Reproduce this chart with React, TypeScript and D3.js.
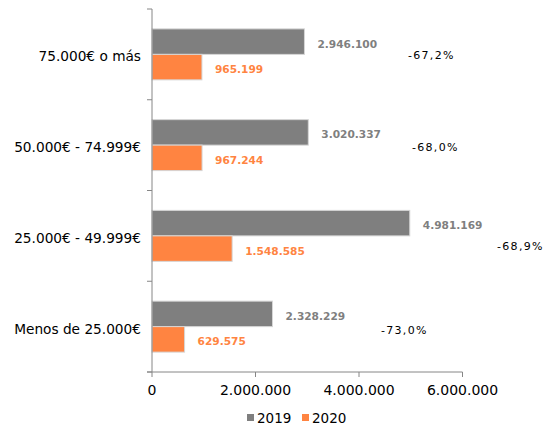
import React from 'react';
import * as d3 from 'd3';

// income brackets, top to bottom
const categories = ['75.000€ o más', '50.000€ - 74.999€', '25.000€ - 49.999€', 'Menos de 25.000€'];
const series = ['2019', '2020'];
const values2019 = [2946100, 3020337, 4981169, 2328229];
const values2020 = [965199, 967244, 1548585, 629575];
const changeLabels = ['-67,2%', '-68,0%', '-68,9%', '-73,0%'];
// where the change labels sit, in axis units
const changeAt = [4947000, 5024000, 6667000, 4425000];
const xTicks = [0, 2000000, 4000000, 6000000];

const W = 548;
const H = 424;
const colors = { '2019': '#7f7f7f', '2020': '#ff8441' };
const fmt = (v: number) => d3.format(',')(v).replace(/,/g, '.');
const font = '"DejaVu Sans", Verdana, sans-serif';

const App = () => {
  const x = d3.scaleLinear().domain([0, 6000000]).range([152, 462.5]);
  const y = d3.scaleBand().domain(categories).range([9, 372]).padding(0);
  const ySub = d3.scaleBand().domain(series).range([0, y.bandwidth()]).paddingInner(0).paddingOuter(0.78);

  const rows = categories.map((c, i) => ({
    cat: c,
    vals: [values2019[i], values2020[i]],
    change: changeLabels[i],
    changeAt: changeAt[i],
  }));
  const changeDy = [1, 2, 11, 3.5];

  return (
    <svg width={W} height={H} style={{ position: 'absolute', left: 0, top: 0, background: '#fff' }}>
      {/* bars */}
      {rows.map((r, i) => (
        <g key={r.cat} transform={`translate(0,${y(r.cat)})`}>
          {series.map((s, j) => (
            <rect
              key={s}
              x={x(0)}
              y={ySub(s)}
              width={x(r.vals[j]) - x(0)}
              height={ySub.bandwidth()}
              fill={colors[s]}
              stroke="#d6d6d6"
              strokeWidth={1}
            />
          ))}
          {series.map((s, j) => (
            <text
              key={'l' + s}
              x={x(r.vals[j]) + 13}
              y={(ySub(s) as number) + ySub.bandwidth() / 2 + 2}
              dominantBaseline="central"
              fontFamily={font}
              fontSize={10.6}
              fontWeight="bold"
              fill={colors[s]}
            >
              {fmt(r.vals[j])}
            </text>
          ))}
          <text
            x={x(r.changeAt)}
            y={y.bandwidth() / 2 + changeDy[i]}
            dominantBaseline="central"
            fontFamily={font}
            fontSize={11}
            letterSpacing={1.3}
            fill="#000"
          >
            {r.change}
          </text>
          <text
            x={141}
            y={y.bandwidth() / 2 + 2}
            textAnchor="end"
            dominantBaseline="central"
            fontFamily={font}
            fontSize={13.7}
            fill="#000"
          >
            {r.cat}
          </text>
        </g>
      ))}

      {/* category axis */}
      <line x1={x(0)} x2={x(0)} y1={9} y2={372} stroke="#868686" />
      {[...categories.map(c => y(c) as number), 372].map((t, i) => (
        <line key={i} x1={x(0) - 5} x2={x(0)} y1={t} y2={t} stroke="#868686" />
      ))}

      {/* value axis */}
      <line x1={x(0) - 5} x2={x(6000000)} y1={372} y2={372} stroke="#868686" />
      {xTicks.map(t => (
        <g key={t} transform={`translate(${x(t)},372)`}>
          <line y1={0} y2={5} stroke="#868686" />
          <text y={18} textAnchor="middle" dominantBaseline="central" fontFamily={font} fontSize={14} fill="#000">
            {fmt(t)}
          </text>
        </g>
      ))}

      {/* legend */}
      {series.map((s, i) => (
        <g key={s} transform={`translate(${247 + i * 55},414)`}>
          <rect width={7} height={7} fill={colors[s]} />
          <text x={10} y={3.5} dominantBaseline="central" fontFamily={font} fontSize={13.5} fill="#000">
            {s}
          </text>
        </g>
      ))}
    </svg>
  );
};

export default App;
